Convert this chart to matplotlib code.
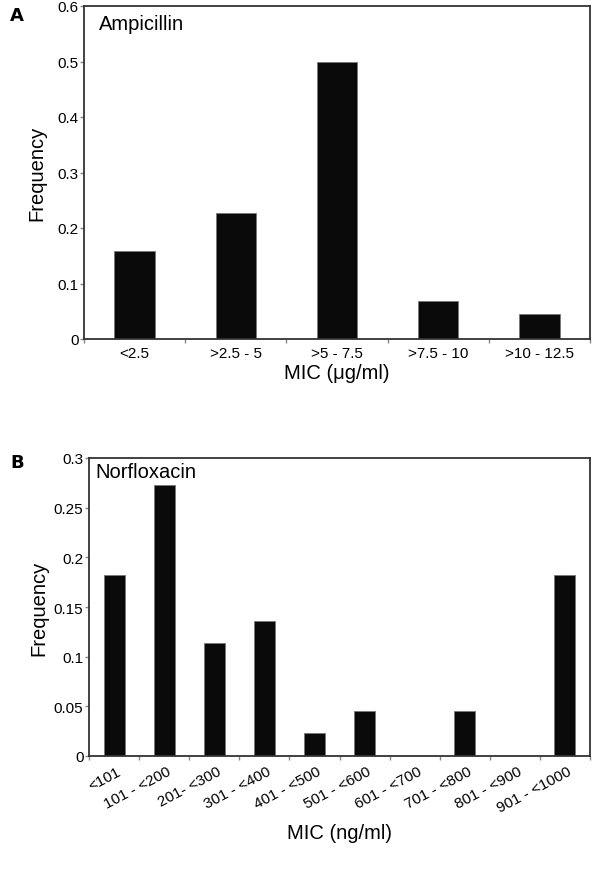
import matplotlib
matplotlib.use("Agg")
import matplotlib.pyplot as plt
import numpy as np

plt.rcParams['font.family'] = ['Liberation Sans', 'DejaVu Sans']

amp_categories = ["<2.5", ">2.5 - 5", ">5 - 7.5", ">7.5 - 10", ">10 - 12.5"]
amp_values = [0.159, 0.227, 0.5, 0.068, 0.045]
amp_yticks = [0, 0.1, 0.2, 0.3, 0.4, 0.5, 0.6]
amp_yticklabels = ["0", "0.1", "0.2", "0.3", "0.4", "0.5", "0.6"]

nor_categories = ["<101", "101 - <200", "201- <300", "301 - <400", "401 - <500",
                  "501 - <600", "601 - <700", "701 - <800", "801 - <900", "901 - <1000"]
nor_values = [0.182, 0.273, 0.114, 0.136, 0.023, 0.045, 0.0, 0.045, 0.0, 0.182]
nor_yticks = [0, 0.05, 0.1, 0.15, 0.2, 0.25, 0.3]
nor_yticklabels = ["0", "0.05", "0.1", "0.15", "0.2", "0.25", "0.3"]

fig = plt.figure(figsize=(6, 8.7), dpi=100)

spine_col = "#333333"
tick_col = "#888888"


def style(ax):
    for s in ax.spines.values():
        s.set_color(spine_col)
        s.set_linewidth(1.3)
    ax.tick_params(axis='y', direction='out', length=3, width=1, color=tick_col,
                   labelsize=11, pad=1)
    ax.tick_params(axis='x', which='major', length=0, labelsize=11)
    ax.tick_params(axis='x', which='minor', direction='out', length=3, width=1,
                   color=tick_col)


# Panel A
ax1 = fig.add_axes([84/600, 1-340/870, 506/600, 333/870])
x1 = np.arange(len(amp_categories))
ax1.bar(x1, amp_values, width=0.4, color="#0a0a0a", edgecolor="#777777", linewidth=0.6)
ax1.set_xlim(-0.5, len(amp_categories) - 0.5)
ax1.set_ylim(0, 0.6)
ax1.set_yticks(amp_yticks)
ax1.set_yticklabels(amp_yticklabels)
ax1.set_xticks(x1)
ax1.set_xticklabels(amp_categories)
ax1.set_xticks(np.arange(len(amp_categories) + 1) - 0.5, minor=True)
style(ax1)
ax1.tick_params(axis='x', which='major', pad=5)
ax1.set_ylabel("Frequency", fontsize=14.5, labelpad=8)
ax1.set_xlabel("MIC (\u03bcg/ml)", fontsize=14.5, labelpad=2)
ax1.text(0.03, 0.975, "Ampicillin", transform=ax1.transAxes, fontsize=14.5,
         ha='left', va='top')
fig.text(10/600, 1-16/870, "A", fontsize=13, fontweight='bold',
         family='DejaVu Sans', ha='left', va='center')

# Panel B
ax2 = fig.add_axes([89/600, 1-757/870, 501/600, 298/870])
x2 = np.arange(len(nor_categories))
ax2.bar(x2, nor_values, width=0.42, color="#0a0a0a", edgecolor="#777777", linewidth=0.6)
ax2.set_xlim(-0.5, len(nor_categories) - 0.5)
ax2.set_ylim(0, 0.3)
ax2.set_yticks(nor_yticks)
ax2.set_yticklabels(nor_yticklabels)
ax2.set_xticks(x2 + 0.05)
ax2.set_xticklabels(nor_categories, rotation=28, ha='right', rotation_mode='anchor')
ax2.set_xticks(np.arange(len(nor_categories) + 1) - 0.5, minor=True)
style(ax2)
ax2.tick_params(axis='x', which='major', pad=6)
ax2.set_ylabel("Frequency", fontsize=14.5, labelpad=4)
ax2.set_xlabel("MIC (ng/ml)", fontsize=14.5, labelpad=6)
ax2.text(0.012, 0.985, "Norfloxacin", transform=ax2.transAxes, fontsize=14.5,
         ha='left', va='top')
fig.text(10/600, 1-463/870, "B", fontsize=13, fontweight='bold',
         family='DejaVu Sans', ha='left', va='center')

fig.savefig("out.png", dpi=100)
